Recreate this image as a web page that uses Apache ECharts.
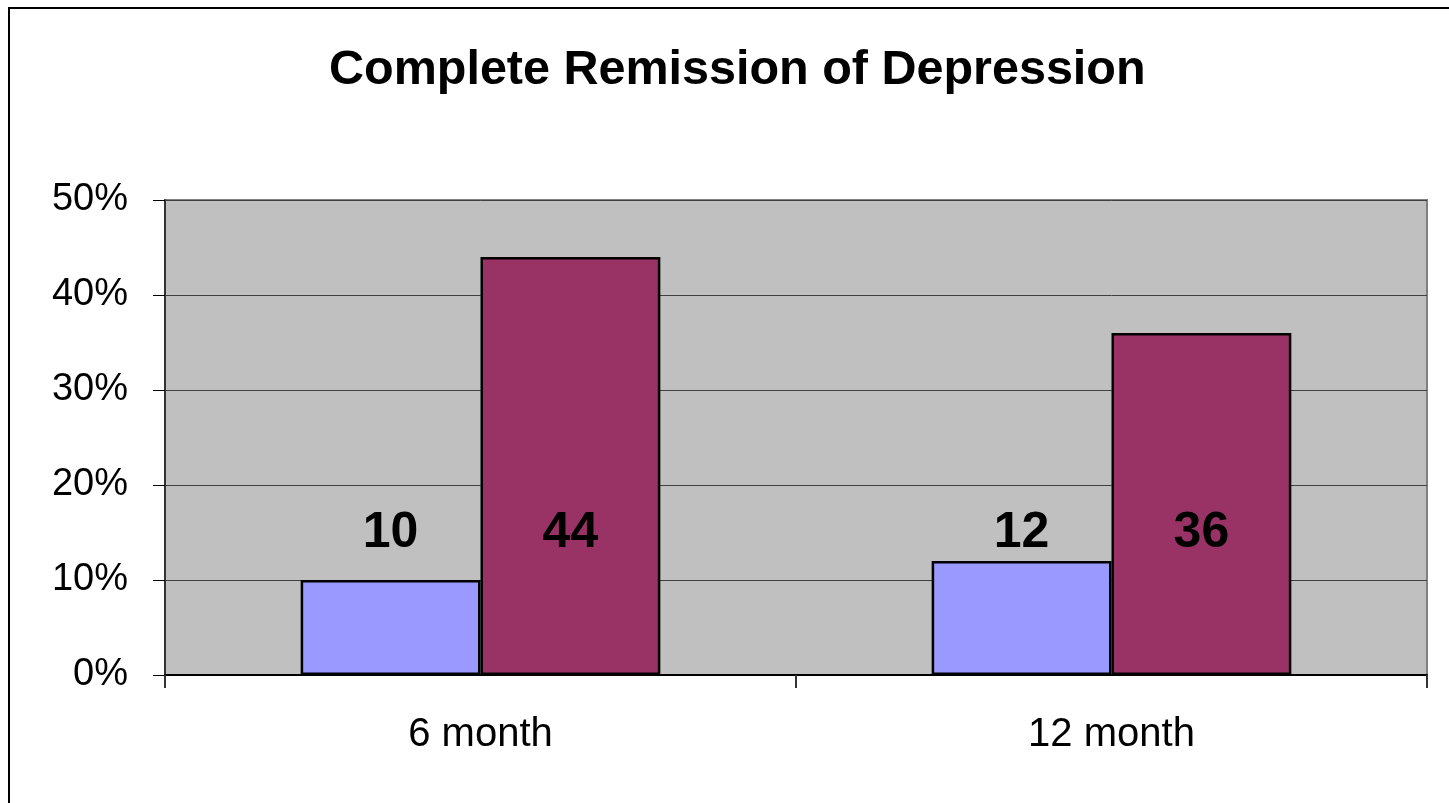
<!DOCTYPE html>
<html>
<head>
<meta charset="utf-8">
<style>
  html, body { margin: 0; padding: 0; background: #fff; }
  #chart { width: 1449px; height: 803px; }
</style>
<script src="https://cdn.jsdelivr.net/npm/echarts@6/dist/echarts.min.js"></script>
</head>
<body>
<div id="chart"></div>
<script>
// Share of patients in complete remission, by follow-up point
const categories = ['6 month', '12 month'];
const seriesA = [10, 12];
const seriesB = [44, 36];
const yTicks = [0, 10, 20, 30, 40, 50];

const chart = echarts.init(document.getElementById('chart'));

const labelStyle = {
  show: true,
  position: 'insideBottom',
  distance: 117,
  color: '#000',
  fontFamily: 'Liberation Sans, Arial, sans-serif',
  fontWeight: 'bold',
  fontSize: 50
};

chart.setOption({
  animation: false,
  backgroundColor: '#fff',
  title: {
    text: 'Complete Remission of Depression',
    left: 324,
    top: 41,
    textStyle: {
      fontFamily: 'Liberation Sans, Arial, sans-serif',
      fontWeight: 'bold',
      fontSize: 48.5,
      color: '#000'
    }
  },
  graphic: [{
    type: 'rect',
    shape: { x: 9, y: 8, width: 1500, height: 900 },
    style: { fill: 'none', stroke: '#000', lineWidth: 2 },
    silent: true
  }],
  grid: {
    left: 165, right: 22, top: 200, bottom: 128,
    show: true,
    backgroundColor: '#C0C0C0',
    borderColor: '#808080',
    borderWidth: 2
  },
  xAxis: {
    type: 'category',
    data: categories,
    axisLine: { show: true, lineStyle: { color: '#000', width: 2 } },
    axisTick: { show: true, length: 13, alignWithLabel: false, lineStyle: { color: '#333', width: 2 } },
    axisLabel: {
      margin: 40,
      color: '#000',
      fontFamily: 'Liberation Sans, Arial, sans-serif',
      fontSize: 40
    }
  },
  yAxis: {
    type: 'value',
    min: yTicks[0],
    max: yTicks[yTicks.length - 1],
    interval: yTicks[1] - yTicks[0],
    axisLine: { show: true, lineStyle: { color: '#333', width: 2 } },
    axisTick: { show: true, length: 12, lineStyle: { color: '#000', width: 1 } },
    splitLine: { show: true, lineStyle: { color: '#404040', width: 1 } },
    axisLabel: {
      margin: 37,
      color: '#000',
      fontFamily: 'Liberation Sans, Arial, sans-serif',
      fontSize: 38,
      formatter: v => v + '%'
    }
  },
  series: [
    {
      type: 'bar',
      data: seriesA,
      barGap: '0%',
      barCategoryGap: '43%',
      itemStyle: { color: '#9999FF', borderColor: '#000', borderWidth: 2.5 },
      label: labelStyle
    },
    {
      type: 'bar',
      data: seriesB,
      itemStyle: { color: '#993366', borderColor: '#000', borderWidth: 2.5 },
      label: labelStyle
    }
  ]
});
</script>
</body>
</html>
